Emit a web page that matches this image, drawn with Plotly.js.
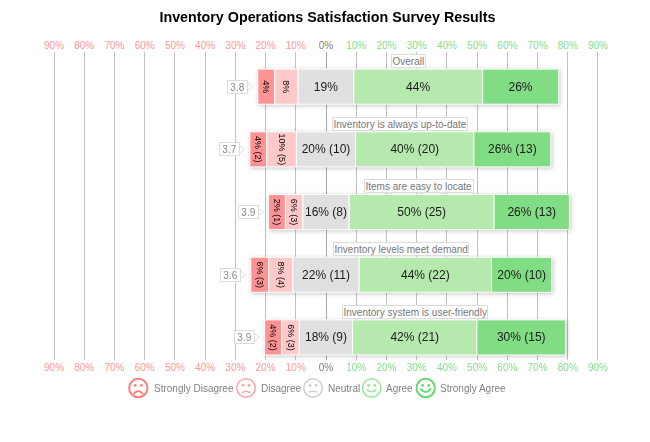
<!DOCTYPE html>
<html><head><meta charset="utf-8">
<script src="https://cdn.plot.ly/plotly-3.0.1.min.js"></script>
<style>
html,body{margin:0;padding:0;background:#fff}
#chart{width:650px;height:442px}
.barlayer{filter:drop-shadow(1px 1px 2px rgba(0,0,0,.22))}
</style></head><body><div id="chart"></div>
<script>
const questions=["Overall","Inventory is always up-to-date","Items are easy to locate","Inventory levels meet demand","Inventory system is user-friendly"];
const scores=[3.8,3.7,3.9,3.6,3.9];
const stronglyDisagree=[4,4,2,6,4];
const disagree=[8,10,6,8,6];
const neutral=[19,20,16,22,18];
const agree=[44,40,50,44,42];
const stronglyAgree=[26,26,26,20,30];
const countSD=[null,2,1,3,2];
const countD=[null,5,3,4,3];
const countN=[null,10,8,11,9];
const countA=[null,20,25,22,21];
const countSA=[null,13,13,10,15];
const tickValues=[-90,-80,-70,-60,-50,-40,-30,-20,-10,0,10,20,30,40,50,60,70,80,90];
const legendNames=["Strongly Disagree","Disagree","Neutral","Agree","Strongly Agree"];
const legendColors=["#ff8080","#ffa3a3","#cfcfcf","#98e698","#66da74"];
const barColors=["#ff9393","#ffc9c9","#e0e0e0","#b6e9ae","#80dd83"];

const PX=544/180;           // pixels per axis unit
const TOTAL=301/PX;         // every bar has the same drawn length
const MIN=17/PX;            // narrowest drawn segment
const label=(v,c)=>c===null?Math.round(v)+"%":v+"% ("+c+")";
const n=questions.length;
const series=[[stronglyDisagree,countSD],[disagree,countD],[neutral,countN],[agree,countA],[stronglyAgree,countSA]];
const starts=[],ends=[];
const widths=series.map(()=>[]),bases=series.map(()=>[]);
for(let i=0;i<n;i++){
  const vals=series.map(s=>s[0][i]);
  const sum=vals.reduce((a,b)=>a+b,0);
  const K0=TOTAL/sum;
  const small=vals.filter(v=>v*K0<MIN);
  const K=(TOTAL-small.length*MIN)/(sum-small.reduce((a,b)=>a+b,0));
  const w=vals.map(v=>v*K0<MIN?MIN:v*K);
  const s=-w[2]/2-w[1]-w[0];
  let p=s;
  w.forEach((x,j)=>{widths[j][i]=x;bases[j][i]=p;p+=x;});
  starts.push(s);ends.push(p);
}
const traces=series.map((sr,j)=>({
  type:"bar",orientation:"h",y:questions,x:widths[j],base:bases[j],width:0.56,
  name:legendNames[j],showlegend:false,hoverinfo:"skip",
  marker:{color:barColors[j],line:{color:"#ffffff",width:1}},
  text:sr[0].map((v,i)=>label(v,sr[1][i])),textposition:"inside",insidetextanchor:"middle",
  constraintext:"none",cliponaxis:false,textangle:j<2?90:0,
  insidetextfont:{family:"Liberation Sans, Arial",size:j<2?9:12,color:j<2?"#000":"#1a1a1a"}
}));
traces.push({type:"scatter",mode:"markers",y:questions,x:starts.map(s=>s-10.6/PX),
  marker:{symbol:"triangle-right",size:11,color:"#fff",line:{color:"#dddddd",width:1}},
  showlegend:false,hoverinfo:"skip",cliponaxis:false});
traces.push({type:"scatter",mode:"none",x:[0],y:[questions[0]],xaxis:"x2",showlegend:false,hoverinfo:"skip"});

const tickText=tickValues.map(v=>{
  const c=v<0?"#ff9696":v>0?"#84de8a":"#808080";
  return '<span style="color:'+c+'">'+Math.abs(v)+'%</span>';
});
const axisBase={range:[-91,91],tickmode:"array",tickvals:tickValues,ticktext:tickText,
  tickfont:{family:"Liberation Sans, Arial",size:10},ticks:"",showline:false,fixedrange:true};

const anns=[];
questions.forEach((q,i)=>{
  anns.push({x:(starts[i]+ends[i])/2,y:q,yshift:25.8,xref:"x",yref:"y",text:q,showarrow:false,
    font:{family:"Liberation Sans, Arial",size:10,color:"#777"},bgcolor:"#fff",bordercolor:"#dddddd",borderwidth:1,borderpad:0.5});
  anns.push({x:starts[i]-9.5/PX,y:q,xref:"x",yref:"y",xanchor:"right",text:scores[i].toFixed(1),showarrow:false,width:19,height:12,
    font:{family:"Liberation Sans, Arial",size:10,color:"#888"},bgcolor:"#fff",bordercolor:"#dddddd",borderwidth:1,borderpad:0});
});
const W=544+2*PX,H=308,L=54-PX,T=52;
const fx=p=>(p-L)/W, fy=p=>1-(p-T)/H;
const iconX=[138.3,246,313,371.7,425.7];
const textX=[151.5,259,326,384,438];
legendNames.forEach((nm,j)=>{
  anns.push({xref:"paper",yref:"paper",x:fx(textX[j]),y:fy(388),xanchor:"left",yanchor:"middle",text:nm,showarrow:false,
    font:{family:"Liberation Sans, Arial",size:10,color:"#808080"}});
});
function face(j){
  const c=legendColors[j];
  const mouth=["M6 15.2Q10 10.6 14 15.2","M6.5 14.6Q10 11.8 13.5 14.6","M6.5 13.6Q10 12.6 13.5 13.6","M6 11.8Q10 15.6 14 11.8","M5.5 11Q10 17 14.5 11"][j];
  const sw=(j===0||j===4)?2:1.5;
  const svg='<svg xmlns="http://www.w3.org/2000/svg" width="80" height="80" viewBox="0 0 20 20">'+
    '<circle cx="10" cy="10" r="9" fill="#fff" stroke="'+c+'" stroke-width="'+sw+'"/>'+
    '<circle cx="7" cy="7.5" r="1.4" fill="'+c+'"/><circle cx="13" cy="7.5" r="1.4" fill="'+c+'"/>'+
    '<path d="'+mouth+'" fill="none" stroke="'+c+'" stroke-width="'+sw+'" stroke-linecap="round"/></svg>';
  return "data:image/svg+xml;charset=utf-8,"+encodeURIComponent(svg);
}
const images=legendNames.map((nm,j)=>({source:face(j),xref:"paper",yref:"paper",
  x:fx(iconX[j]),y:fy(388),sizex:20.5/W,sizey:20.5/H,xanchor:"center",yanchor:"middle",layer:"above"}));

Plotly.newPlot("chart",traces,{
  width:650,height:442,paper_bgcolor:"#fff",plot_bgcolor:"#fff",
  margin:{l:L,r:650-L-W,t:T,b:442-T-H,pad:0},
  title:{text:"<b>Inventory Operations Satisfaction Survey Results</b>",x:327.5/650,xanchor:"center",y:1-17/442,yanchor:"middle",
    font:{family:"Liberation Sans, Arial",size:14.3,color:"#000"}},
  barmode:"overlay",hovermode:false,showlegend:false,
  xaxis:Object.assign({},axisBase,{side:"bottom",showgrid:true,gridcolor:"#c0c0c0",gridwidth:1,zeroline:true,zerolinecolor:"#a8a8a8",zerolinewidth:1}),
  xaxis2:Object.assign({},axisBase,{side:"top",overlaying:"x",showgrid:false,zeroline:false}),
  yaxis:{type:"category",categoryorder:"array",categoryarray:questions,range:[4.36,-0.553],
    showticklabels:false,ticks:"",showgrid:false,zeroline:false,showline:false,fixedrange:true},
  annotations:anns,images:images
},{displayModeBar:false,staticPlot:true});
</script></body></html>
